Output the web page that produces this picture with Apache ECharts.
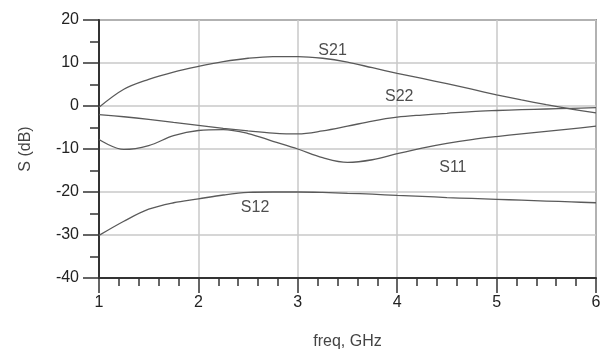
<!DOCTYPE html>
<html>
<head>
<meta charset="utf-8">
<script src="https://cdn.jsdelivr.net/npm/echarts@6/dist/echarts.min.js"></script>
<style>
  html, body { margin: 0; padding: 0; background: #fff; }
  #chart { width: 607px; height: 353px; }
</style>
</head>
<body>
<div id="chart"></div>
<script>
// freq in GHz
const freq = [1, 1.25, 1.5, 1.75, 2, 2.25, 2.5, 2.75, 3, 3.25, 3.5, 3.75, 4, 4.25, 4.5, 4.75, 5, 5.25, 5.5, 5.75, 6];
const s21 = [-0.3, 3.9, 6.2, 7.9, 9.2, 10.3, 11.1, 11.5, 11.5, 11.1, 10.2, 8.9, 7.6, 6.4, 5.2, 3.9, 2.6, 1.4, 0.3, -0.7, -1.6];
const s22 = [-2.0, -2.5, -3.1, -3.8, -4.5, -5.2, -5.8, -6.3, -6.5, -5.8, -4.7, -3.5, -2.6, -2.1, -1.7, -1.3, -1.05, -0.85, -0.7, -0.55, -0.4];
const s11 = [-7.8, -10.1, -9.2, -6.9, -5.7, -5.5, -6.4, -8.2, -10.0, -12.0, -13.1, -12.5, -11.1, -9.8, -8.7, -7.8, -7.1, -6.5, -5.9, -5.3, -4.7];
const s12 = [-30.1, -26.8, -24.0, -22.5, -21.6, -20.7, -20.1, -20.0, -20.0, -20.1, -20.3, -20.5, -20.8, -21.0, -21.3, -21.5, -21.7, -21.9, -22.1, -22.3, -22.5];

// curve labels (placed in data units)
const labelText = ["S21", "S22", "S11", "S12"];
const labelFreq = [3.35, 4.02, 4.56, 2.57];
const labelDb = [12.9, 2.3, -14.3, -23.6];

const font = "Liberation Sans, Arial, sans-serif";
const lineColor = "#5a5a5a";

function pairs(ys) {
  return freq.map((f, i) => [f, ys[i]]);
}

function curve(name, ys) {
  return {
    name: name,
    type: "line",
    data: pairs(ys),
    smooth: 0.35,
    showSymbol: false,
    silent: true,
    lineStyle: { color: lineColor, width: 1.3 },
  };
}

const chart = echarts.init(document.getElementById("chart"));
chart.setOption({
  animation: false,
  grid: {
    left: 99,
    right: 11,
    top: 20,
    bottom: 75,
    show: true,
    outerBoundsMode: "none",
    borderColor: "#444",
    borderWidth: 1.5,
  },
  xAxis: {
    type: "value",
    min: 1,
    max: 6,
    interval: 1,
    name: "freq, GHz",
    nameLocation: "middle",
    nameGap: 56,
    nameTextStyle: { fontFamily: font, fontSize: 16, color: "#444" },
    axisLine: { onZero: false, lineStyle: { color: "#333", width: 2 } },
    axisTick: { length: 15, lineStyle: { color: "#333", width: 1.5 } },
    minorTick: { show: true, splitNumber: 5, length: 8, lineStyle: { color: "#333", width: 1.5 } },
    axisLabel: { fontFamily: font, fontSize: 16, color: "#222", margin: 17 },
    splitLine: { show: true, lineStyle: { color: "#c8c8c8", width: 1.5 } },
  },
  yAxis: {
    type: "value",
    min: -40,
    max: 20,
    interval: 10,
    name: "S (dB)",
    nameLocation: "middle",
    nameGap: 65,
    nameTextStyle: { fontFamily: font, fontSize: 16, color: "#444" },
    axisLine: { onZero: false, lineStyle: { color: "#333", width: 2 } },
    axisTick: { length: 16, lineStyle: { color: "#333", width: 1.5 } },
    minorTick: { show: true, splitNumber: 2, length: 9, lineStyle: { color: "#333", width: 1.5 } },
    axisLabel: { fontFamily: font, fontSize: 16, color: "#222", margin: 20 },
    splitLine: { show: true, lineStyle: { color: "#c8c8c8", width: 1.5 } },
  },
  series: [
    curve("S21", s21),
    curve("S22", s22),
    curve("S11", s11),
    curve("S12", s12),
    {
      name: "labels",
      type: "scatter",
      symbolSize: 0,
      silent: true,
      data: labelText.map((t, i) => ({ name: t, value: [labelFreq[i], labelDb[i]] })),
      label: {
        show: true,
        position: "inside",
        formatter: (p) => p.name,
        fontFamily: font,
        fontSize: 16,
        color: "#222",
      },
    },
  ],
});
</script>
</body>
</html>
